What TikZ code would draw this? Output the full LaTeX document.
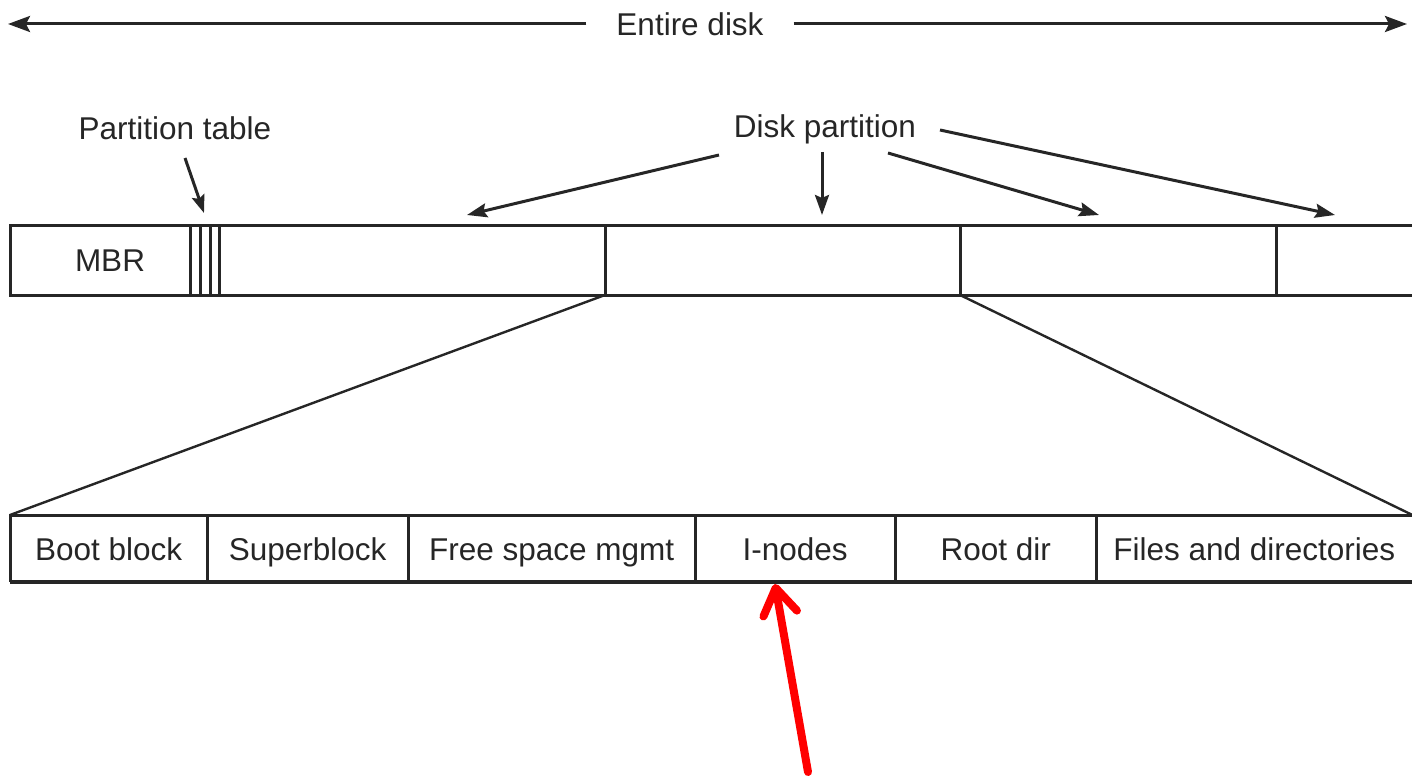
\documentclass[tikz,border=0pt]{standalone}
\usepackage{fontspec}
\setmainfont{Liberation Sans}
\usetikzlibrary{arrows.meta}
\definecolor{ink}{HTML}{262626}
\begin{document}
\begin{tikzpicture}[x=1pt,y=-1pt,
  every node/.style={font=\fontsize{31.5}{36}\selectfont, text=ink},
  frame/.style={draw=ink, line width=3pt},
  ptr/.style={draw=ink, line width=3pt, -{Stealth[length=22pt,width=16pt,inset=4pt]}},
  sptr/.style={ptr, -{Stealth[length=20pt,width=14pt,inset=3pt]}},
  cell/.style={minimum height=67pt, inner sep=0pt, text height=23pt, text depth=0pt, anchor=north west},
  label/.style={inner sep=2pt, text height=23pt, text depth=0pt}
]
\useasboundingbox (0,0) rectangle (1412,778);

% whole-disk span
\node[label, inner xsep=30pt] (entire) at (690,24) {Entire disk};
\coordinate (dl) at (8,24);
\coordinate (dr) at (1407,24);
\draw[ptr] (entire) -- (dl);
\draw[ptr] (entire) -- (dr);

% partition bar
\coordinate (bartl) at (10,225);
\coordinate (barbl) at (10,295);
\coordinate (bartr) at (1412,225);
\coordinate (barbr) at (1412,295);
\node[label] (mbr) at (110,260) {MBR};
\draw[frame] (bartr) -- (bartl) -- (barbl) -- (barbr);
\foreach \x in {190,200,210,219,605,960,1276}
  \draw[frame] (\x,225) -- (\x,295);

% labels above the bar
\node[label] (ptab) at (175,128) {Partition table};
\coordinate (ptabtip) at (204,213);
\draw[ptr, -{Stealth[length=18pt,width=13pt,inset=3pt]}] (185,158) -- (ptabtip);

\node[label] (dpart) at (825,126) {Disk partition};
\coordinate (t1) at (467,215);
\coordinate (t2) at (822,215);
\coordinate (t3) at (1099,215);
\coordinate (t4) at (1335,215);
\draw[sptr] (719,155) -- (t1);
\draw[sptr] (822,152) -- (t2);
\draw[sptr] (888,153) -- (t3);
\draw[sptr] (940,130) -- (t4);

% file-system layout of one partition
\node[cell, minimum width=197pt] (boot)  at (10,515)  {Boot block};
\node[cell, minimum width=201pt] (super) at (207,515) {Superblock};
\node[cell, minimum width=287pt] (free)  at (408,515) {Free space mgmt};
\node[cell, minimum width=200pt] (inode) at (695,515) {I-nodes};
\node[cell, minimum width=201pt] (root)  at (895,515) {Root dir};
\node[cell, minimum width=316pt] (files) at (1096,515) {Files and directories};
\draw[frame] (files.north east) -- (boot.north west) -- (boot.south west);
\draw[draw=ink, line width=4pt] (boot.south west) -- (files.south east);
\foreach \c in {super,free,inode,root,files}
  \draw[frame] (\c.north west) -- (\c.south west);

% zoom lines from the second partition
\coordinate (zl) at (605,295);
\coordinate (zr) at (960,295);
\draw[frame, line width=2.4pt] (zl) -- (boot.north west);
\draw[frame, line width=2.4pt] (zr) -- (files.north east);

% highlight on the i-node area
\coordinate (redtail) at (808,772);
\coordinate (redtip) at (775,584);
\draw[red, line width=8pt, line cap=round,
      -{Straight Barb[length=26pt,width=34pt,line cap=round,line join=round]}] (redtail) -- (redtip);
\end{tikzpicture}
\end{document}
